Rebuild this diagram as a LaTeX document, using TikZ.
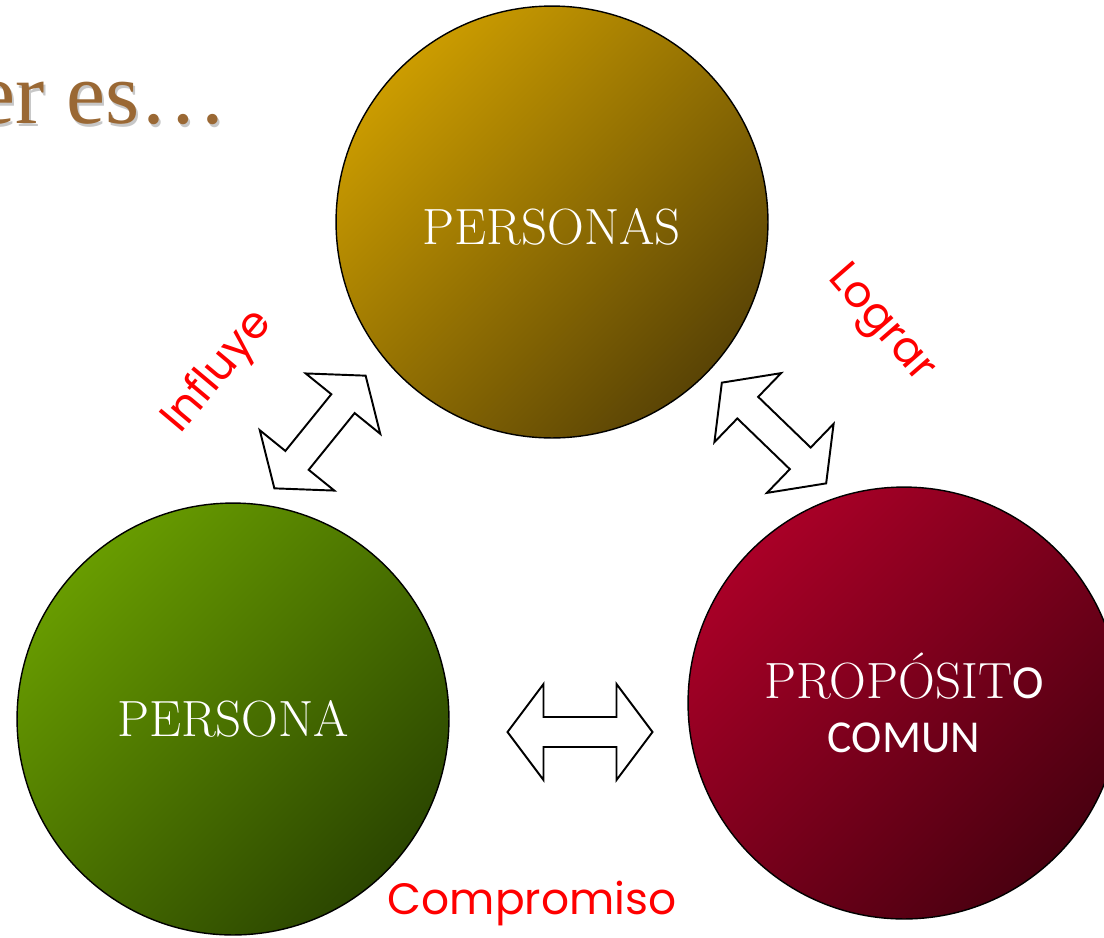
\documentclass[tikz,border=0pt]{standalone}
\usepackage{fontspec}
\newfontfamily\carlito{Carlito}
\newfontfamily\poppins{Poppins}
\newfontfamily\titlefont{Liberation Serif}
\usetikzlibrary{positioning}

\definecolor{personasA}{HTML}{CB9C00}
\definecolor{personasB}{HTML}{5A4405}
\definecolor{personaA}{HTML}{689C00}
\definecolor{personaB}{HTML}{2B4600}
\definecolor{propA}{HTML}{A90027}
\definecolor{propB}{HTML}{4A0010}
\definecolor{titlebrown}{HTML}{9A6834}

\tikzset{
    ball/.style 2 args={draw=black,line width=0.8pt,circle,minimum size=8.64cm,inner sep=0pt,
        text=white,align=center,font=\fontsize{29}{34}\selectfont,
        top color=#1,bottom color=#2,shading angle=45},
    verb/.style={text=red,font=\poppins\fontsize{25}{30}\selectfont,inner sep=0pt},
    heading/.style={anchor=base west,inner sep=0pt,font=\titlefont\fontsize{50}{54}\selectfont},
    dblarrow/.pic={
        \draw[line width=1.1pt,fill=white,line join=miter]
            (-72.5,0) -- (-36.5,-48) -- (-36.5,-15) -- (36.5,-15) -- (36.5,-48)
            -- (72.5,0) -- (36.5,48) -- (36.5,15) -- (-36.5,15) -- (-36.5,48) -- cycle;
    }
}

\begin{document}
\begin{tikzpicture}[x=0.02cm,y=-0.02cm]
    \useasboundingbox (0,0) rectangle (1104,937);
    % title, cut at the left edge
    \node[heading,text=black!22] (shadow) at (-22,126) {er es…};
    \node[heading,text=titlebrown] (title) at (-24,123) {er es…};
    % the three circles
    \node[ball={personasA}{personasB}] (personas) at (552,222) {\smash{\raisebox{-13pt}{PERSONAS}}};
    \node[ball={personaA}{personaB}] (persona) at (233,719) {PERSONA};
    \node[ball={propA}{propB}] (proposito) at (904,703)
        {PROPÓSIT{\carlito\fontsize{27}{30}\selectfont O}\\[-3pt]{\carlito\fontsize{26}{30}\selectfont COMUN}};
    % double arrows between them
    \pic[rotate=51] at (320,432) {dblarrow};
    \pic[rotate=-44] at (774,433) {dblarrow};
    \pic at (580,732) {dblarrow};
    % labels
    \node[verb,rotate=50] (influye) at (218,372) {Influye};
    \node[verb,rotate=-49] (lograr) at (880,325) {Lograr};
    \node[verb] (compromiso) at (532,903) {Compromiso};
\end{tikzpicture}
\end{document}
